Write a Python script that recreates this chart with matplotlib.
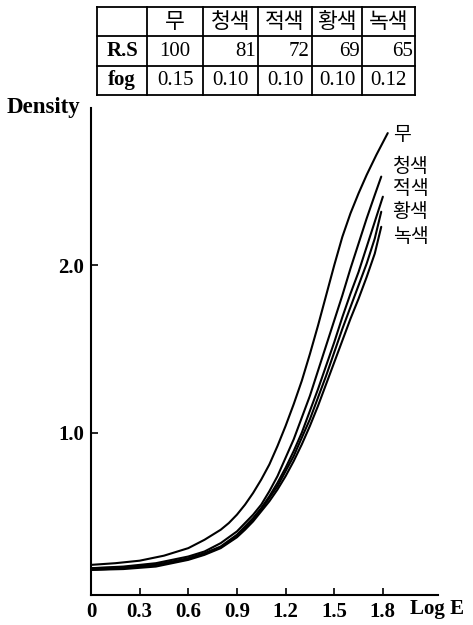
import numpy as np
import matplotlib.pyplot as plt

# 특성곡선 데이터
names = ['무', '청색', '적색', '황색', '녹색']
rs = [100, 81, 72, 69, 65]
fog = ['0.15', '0.10', '0.10', '0.10', '0.12']

loge_mu = [0.00, 0.15, 0.30, 0.45, 0.60, 0.70, 0.80, 0.85, 0.90, 0.95, 1.00, 1.05, 1.10, 1.15, 1.20,
           1.25, 1.30, 1.35, 1.40, 1.45, 1.50, 1.55, 1.60, 1.65, 1.70, 1.76, 1.83]
dens_mu = [0.21, 0.22, 0.235, 0.265, 0.31, 0.36, 0.42, 0.46, 0.51, 0.57, 0.64, 0.72, 0.81, 0.92, 1.04,
           1.17, 1.31, 1.47, 1.64, 1.82, 2.00, 2.17, 2.31, 2.43, 2.54, 2.66, 2.79]

loge_cheong = [0.00, 0.20, 0.40, 0.60, 0.70, 0.80, 0.90, 0.95, 1.00, 1.05, 1.10, 1.15, 1.20, 1.25,
               1.30, 1.35, 1.40, 1.45, 1.50, 1.55, 1.60, 1.65, 1.70, 1.75, 1.79]
dens_cheong = [0.19, 0.20, 0.22, 0.26, 0.29, 0.34, 0.41, 0.46, 0.51, 0.57, 0.65, 0.74, 0.85, 0.96,
               1.09, 1.22, 1.37, 1.52, 1.67, 1.82, 1.98, 2.13, 2.28, 2.42, 2.53]

loge_jeok = [0.00, 0.20, 0.40, 0.60, 0.70, 0.80, 0.90, 0.95, 1.00, 1.05, 1.10, 1.15, 1.20, 1.25,
             1.30, 1.35, 1.40, 1.45, 1.50, 1.55, 1.60, 1.65, 1.70, 1.75, 1.80]
dens_jeok = [0.19, 0.195, 0.21, 0.25, 0.28, 0.32, 0.39, 0.44, 0.49, 0.55, 0.62, 0.70, 0.79, 0.89,
             1.00, 1.13, 1.26, 1.40, 1.54, 1.69, 1.83, 1.96, 2.11, 2.26, 2.41]

loge_hwang = [0.00, 0.20, 0.40, 0.60, 0.70, 0.80, 0.90, 0.95, 1.00, 1.05, 1.10, 1.15, 1.20, 1.25,
              1.30, 1.35, 1.40, 1.45, 1.50, 1.55, 1.60, 1.65, 1.70, 1.75, 1.79]
dens_hwang = [0.18, 0.19, 0.21, 0.245, 0.275, 0.315, 0.38, 0.43, 0.48, 0.54, 0.61, 0.68, 0.77, 0.86,
              0.97, 1.08, 1.21, 1.34, 1.48, 1.62, 1.75, 1.88, 2.01, 2.16, 2.32]

loge_nok = [0.00, 0.20, 0.40, 0.60, 0.70, 0.80, 0.90, 0.95, 1.00, 1.05, 1.10, 1.15, 1.20, 1.25,
            1.30, 1.35, 1.40, 1.45, 1.50, 1.55, 1.60, 1.65, 1.70, 1.75, 1.79]
dens_nok = [0.18, 0.185, 0.20, 0.24, 0.27, 0.31, 0.375, 0.42, 0.47, 0.53, 0.59, 0.66, 0.74, 0.83,
            0.93, 1.04, 1.16, 1.29, 1.42, 1.55, 1.68, 1.80, 1.93, 2.07, 2.23]

xticks = [0, 0.3, 0.6, 0.9, 1.2, 1.5, 1.8]
xtick_labels = ['0', '0.3', '0.6', '0.9', '1.2', '1.5', '1.8']
yticks = [1.0, 2.0]
ytick_labels = ['1.0', '2.0']

serif = ['Liberation Serif', 'DejaVu Serif']
hangul = ['Noto Sans CJK KR', 'DejaVu Sans']

#-------그래프---------------------
fig = plt.figure(figsize=(4.73, 6.25), dpi=100)
ax = fig.add_axes([91/473, 30/625, (438-91)/473, (595-108)/625])

curves = [(loge_mu, dens_mu), (loge_cheong, dens_cheong), (loge_jeok, dens_jeok),
          (loge_hwang, dens_hwang), (loge_nok, dens_nok)]
for xs, ys in curves:
    ax.plot(xs, ys, color='black', linewidth=1.5, solid_capstyle='round', solid_joinstyle='round')

# 곡선 이름
label_y = [2.78, 2.59, 2.46, 2.32, 2.17]
for name, yy in zip(names, label_y):
    ax.text(1.86, yy, name, family=hangul, fontsize=14, va='center', ha='left')

ax.set_xlim(0, 2.14)
ax.set_ylim(0.03, 2.94)
ax.spines['top'].set_visible(False)
ax.spines['right'].set_visible(False)
ax.spines['left'].set_linewidth(1.5)
ax.spines['bottom'].set_linewidth(1.5)
ax.set_xticks(xticks)
ax.set_xticklabels(xtick_labels, family=serif, fontsize=15, fontweight='bold')
ax.set_yticks(yticks)
ax.set_yticklabels(ytick_labels, family=serif, fontsize=15, fontweight='bold')
ax.tick_params(direction='in', length=5, width=1.2, pad=5)

ax.text(1.97, -0.008, 'Log E', transform=ax.get_xaxis_transform(),
        family=serif, fontsize=15, fontweight='bold', va='top', ha='left')
fig.text(7/473, 1 - 108/625, 'Density', family=serif, fontsize=16.5,
         fontweight='bold', ha='left', va='center')

# 표
tab = fig.add_axes([97/473, 1 - 95/625, (415-97)/473, 88/625])
col_w = [50, 56, 55, 54, 50, 53]
edges = np.concatenate([[0], np.cumsum(col_w)])
tab.set_xlim(0, edges[-1])
tab.set_ylim(0, 3)
tab.axis('off')
for e in edges:
    tab.plot([e, e], [0, 3], color='black', linewidth=1.3, clip_on=False)
for r in range(4):
    tab.plot([0, edges[-1]], [r, r], color='black', linewidth=1.3, clip_on=False)

for i, name in enumerate(names):
    cx = (edges[i+1] + edges[i+2]) / 2
    tab.text(cx, 2.5, name, family=hangul, fontsize=15.5, ha='center', va='center')

tab.text(col_w[0]/2, 1.5, 'R.S', family=serif, fontsize=15, fontweight='bold', ha='center', va='center')
tab.text(col_w[0]/2, 0.5, 'fog', family=serif, fontsize=15, fontweight='bold', ha='center', va='center')
for i, v in enumerate(rs):
    if i == 0:
        tab.text((edges[1] + edges[2]) / 2, 1.5, str(v), family=serif, fontsize=15, ha='center', va='center')
    else:
        tab.text(edges[i+2] - 2, 1.5, str(v), family=serif, fontsize=15, ha='right', va='center')
for i, v in enumerate(fog):
    tab.text((edges[i+1] + edges[i+2]) / 2, 0.5, v, family=serif, fontsize=15, ha='center', va='center')

fig.savefig('out.png', dpi=100)
